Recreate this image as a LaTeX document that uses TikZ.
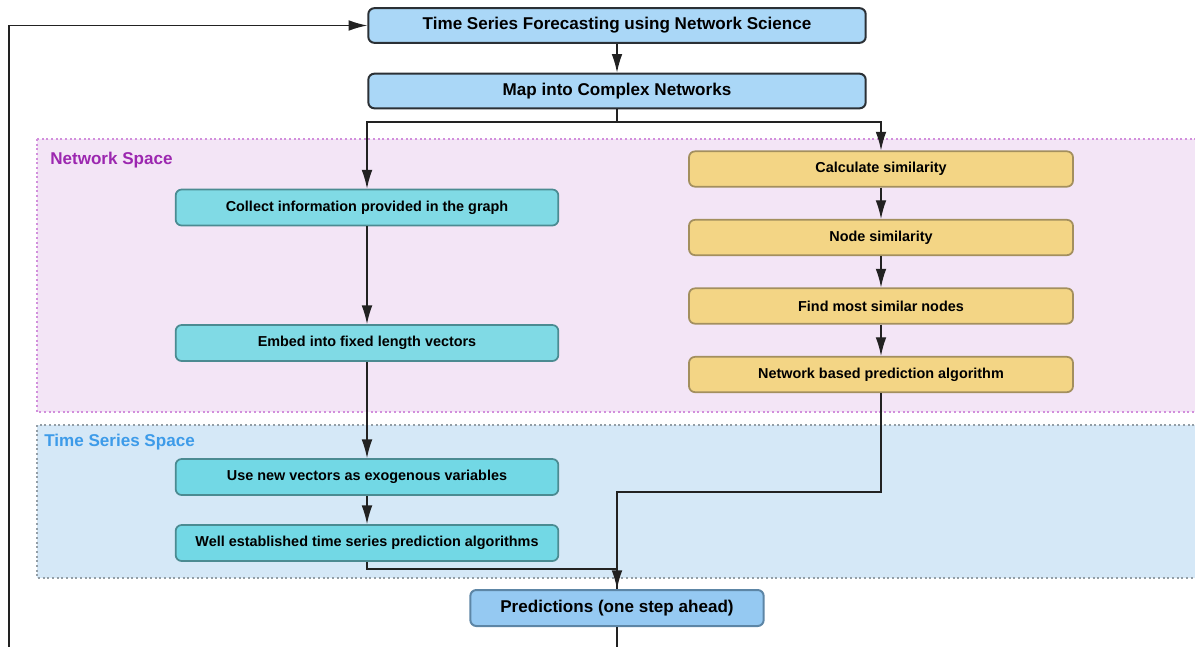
\documentclass[tikz,border=0pt]{standalone}
\usepackage{fontspec}
\setmainfont{Liberation Sans}
\usepackage{tikz}
\usetikzlibrary{arrows.meta}
\usetikzlibrary{positioning}
\definecolor{topfill}{HTML}{AAD7F7}
\definecolor{topline}{HTML}{2B3035}
\definecolor{predfill}{HTML}{95C9F2}
\definecolor{predline}{HTML}{5D86A6}
\definecolor{tealfill}{HTML}{80DAE5}
\definecolor{tealfillb}{HTML}{72D8E5}
\definecolor{tealline}{HTML}{4B8B92}
\definecolor{yelfill}{HTML}{F3D585}
\definecolor{yelline}{HTML}{A38F5E}
\definecolor{netfill}{HTML}{F3E5F6}
\definecolor{netline}{HTML}{D28FDC}
\definecolor{netlabel}{HTML}{9C27B0}
\definecolor{tsfill}{HTML}{D5E8F7}
\definecolor{tsline}{HTML}{939EA6}
\definecolor{tslabel}{HTML}{3D9BE9}
\definecolor{wire}{HTML}{222222}

\begin{document}
\begin{tikzpicture}[x=0.75pt,y=-0.75pt,
	bigbox/.style={draw=topline,line width=1.5pt,rounded corners=4.5pt,fill=topfill,
		minimum width=373pt,minimum height=26pt,font=\fontsize{12.8}{15}\selectfont\bfseries},
	predbox/.style={bigbox,draw=predline,fill=predfill,minimum width=220pt,minimum height=27pt},
	tealbox/.style={draw=tealline,line width=1.3pt,rounded corners=4.5pt,fill=tealfill,
		minimum width=287pt,minimum height=27pt,font=\fontsize{10.8}{13}\selectfont\bfseries},
	yelbox/.style={tealbox,draw=yelline,fill=yelfill,minimum width=288pt,minimum height=26.5pt},
	wireline/.style={draw=wire,line width=1pt},
	arrowline/.style={wireline,-{Latex[length=14pt,width=8pt]}},
	spacelabel/.style={anchor=west,inner sep=0pt,font=\fontsize{12.8}{15}\selectfont\bfseries}]
	\useasboundingbox (0,0) rectangle (1195,646);
	\filldraw[fill=netfill,draw=netline,line width=1.5pt,dotted] (37,139) rectangle (1200,412);
	\filldraw[fill=tsfill,draw=tsline,line width=1.5pt,dotted] (37,425) rectangle (1200,578);
	\node[spacelabel,text=netlabel] (netlbl) at (50,160) {Network Space};
	\node[spacelabel,text=tslabel] (tslbl) at (44,442) {Time Series Space};

	\node[bigbox] (top) at (617,25.5) {Time Series Forecasting using Network Science};
	\node[bigbox] (map) at (617,91) {Map into Complex Networks};
	\node[tealbox] (collect) at (367,207.5) {Collect information provided in the graph};
	\node[tealbox] (embed) at (367,343) {Embed into fixed length vectors};
	\node[tealbox,fill=tealfillb] (usenew) at (367,477) {Use new vectors as exogenous variables};
	\node[tealbox,fill=tealfillb] (well) at (367,543) {Well established time series prediction algorithms};
	\node[yelbox] (calc) at (881,169) {Calculate similarity};
	\node[yelbox] (nodesim) at (881,237.5) {Node similarity};
	\node[yelbox] (find) at (881,306) {Find most similar nodes};
	\node[yelbox] (netpred) at (881,374.5) {Network based prediction algorithm};
	\node[predbox] (pred) at (617,608) {Predictions (one step ahead)};

	\coordinate (split) at (617,122);
	\coordinate (loop) at (9,25.5);
	\draw[arrowline] (top) -- (map);
	\draw[wireline] (map) -- (split);
	\draw[arrowline] (split) -| (collect);
	\draw[arrowline] (split) -| (calc);
	\draw[arrowline] (collect) -- (embed);
	\draw[arrowline] (embed) -- (usenew);
	\draw[arrowline] (usenew) -- (well);
	\draw[arrowline] (calc) -- (nodesim);
	\draw[arrowline] (nodesim) -- (find);
	\draw[arrowline] (find) -- (netpred);
	\draw[wireline] (well.south) -- ++(0,7) -| (pred.north);
	\draw[arrowline] (netpred.south) -- ++(0,99) -| (pred.north);
	\draw[arrowline] (pred.south) -- ++(0,40) -| (loop) -- (top.west);
\end{tikzpicture}
\end{document}
